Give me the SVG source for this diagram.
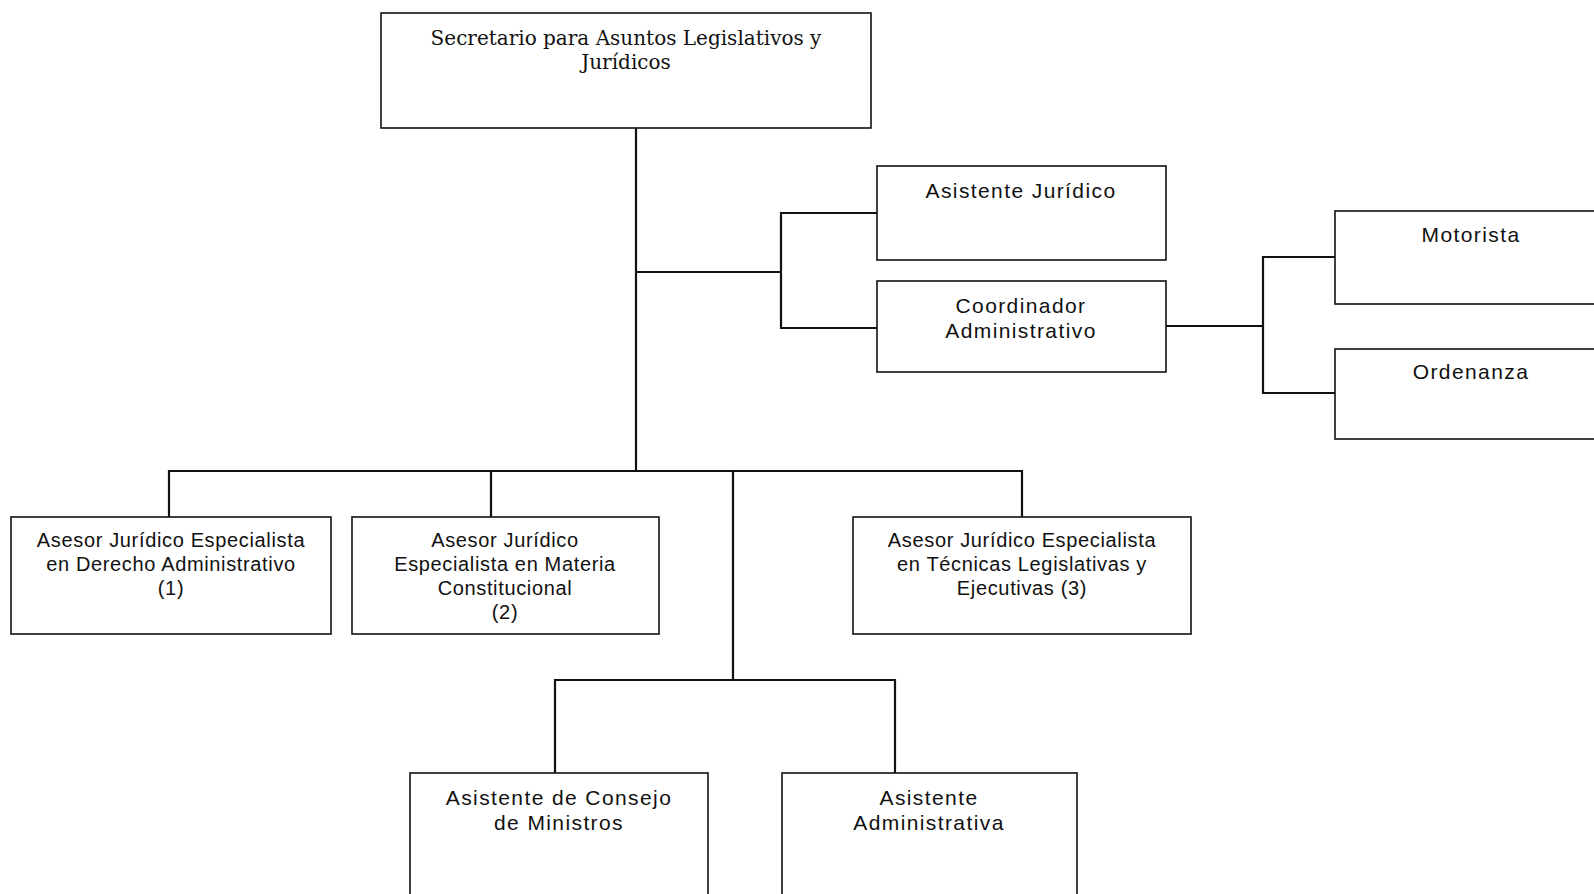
<svg xmlns="http://www.w3.org/2000/svg" width="1594" height="894" viewBox="0 0 1594 894">
<style>
.box{fill:#fff;stroke:#111;stroke-width:1.6}
.ln{fill:none;stroke:#111;stroke-width:2.2;stroke-linecap:square}
.serif{font-family:"DejaVu Serif","Liberation Serif",serif;font-size:20px;fill:#111;text-anchor:middle}
.big{font-family:"Liberation Sans",Arial,sans-serif;font-size:21px;letter-spacing:1.4px;fill:#111;text-anchor:middle}
.mid{font-family:"Liberation Sans",Arial,sans-serif;font-size:20px;letter-spacing:0.65px;fill:#111;text-anchor:middle}
</style>
<rect width="1594" height="894" fill="#fff"/>
<g id="connectors">
<path class="ln" d="M636,128V471M636,272H781M781,213V328M781,213H877M781,328H877"/>
<path class="ln" d="M1166,326H1263M1263,257V393M1263,257H1335M1263,393H1335"/>
<path class="ln" d="M169,471H1022M169,471V517M491,471V517M1022,471V517"/>
<path class="ln" d="M733,471V680M555,680H895M555,680V773M895,680V773"/>
</g>
<g id="secretario">
<rect class="box" x="381" y="13" width="490" height="115"/>
<text class="serif" x="626" y="45">Secretario para Asuntos Legislativos y</text>
<text class="serif" x="626" y="69">Jurídicos</text>
</g>
<g id="asistente-juridico">
<rect class="box" x="877" y="166" width="289" height="94"/>
<text class="big" x="1021" y="198">Asistente Jurídico</text>
</g>
<g id="coordinador">
<rect class="box" x="877" y="281" width="289" height="91"/>
<text class="big" x="1021" y="313">Coordinador</text>
<text class="big" x="1021" y="338">Administrativo</text>
</g>
<g id="motorista">
<rect class="box" x="1335" y="211" width="272" height="93"/>
<text class="big" x="1471" y="242">Motorista</text>
</g>
<g id="ordenanza">
<rect class="box" x="1335" y="349" width="272" height="90"/>
<text class="big" x="1471" y="379">Ordenanza</text>
</g>
<g id="asesor-1">
<rect class="box" x="11" y="517" width="320" height="117"/>
<text class="mid" x="171" y="547">Asesor Jurídico Especialista</text>
<text class="mid" x="171" y="571">en Derecho Administrativo</text>
<text class="mid" x="171" y="595">(1)</text>
</g>
<g id="asesor-2">
<rect class="box" x="352" y="517" width="307" height="117"/>
<text class="mid" x="505" y="547">Asesor Jurídico</text>
<text class="mid" x="505" y="571">Especialista en Materia</text>
<text class="mid" x="505" y="595">Constitucional</text>
<text class="mid" x="505" y="619">(2)</text>
</g>
<g id="asesor-3">
<rect class="box" x="853" y="517" width="338" height="117"/>
<text class="mid" x="1022" y="547">Asesor Jurídico Especialista</text>
<text class="mid" x="1022" y="571">en Técnicas Legislativas y</text>
<text class="mid" x="1022" y="595">Ejecutivas (3)</text>
</g>
<g id="asistente-consejo">
<rect class="box" x="410" y="773" width="298" height="140"/>
<text class="big" x="559" y="805">Asistente de Consejo</text>
<text class="big" x="559" y="830">de Ministros</text>
</g>
<g id="asistente-administrativa">
<rect class="box" x="782" y="773" width="295" height="140"/>
<text class="big" x="929" y="805">Asistente</text>
<text class="big" x="929" y="830">Administrativa</text>
</g>
</svg>
